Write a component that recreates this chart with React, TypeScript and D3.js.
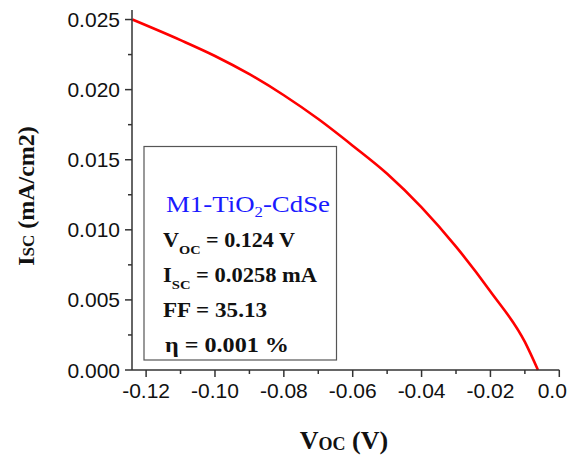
import React from "react";
import * as d3 from "d3";

// J–V curve of the M1-TiO2-CdSe cell
const voltage = [-0.124, -0.11, -0.1, -0.09, -0.08, -0.07, -0.06, -0.05, -0.04, -0.03, -0.02, -0.01, -0.0062];
const current = [0.025, 0.02353, 0.0224, 0.0211, 0.0196, 0.0179, 0.016, 0.014, 0.0116, 0.0088, 0.0056, 0.002, 0.0];

const xTicks = [-0.12, -0.1, -0.08, -0.06, -0.04, -0.02, 0.0];
const xTickLabels = ["-0.12", "-0.10", "-0.08", "-0.06", "-0.04", "-0.02", "0.0"];
const xMinor = [-0.11, -0.09, -0.07, -0.05, -0.03, -0.01];
const yTicks = [0, 0.005, 0.01, 0.015, 0.02, 0.025];
const yTickLabels = ["0.000", "0.005", "0.010", "0.015", "0.020", "0.025"];
const yMinor = [0.0025, 0.0075, 0.0125, 0.0175, 0.0225];

const W = 579;
const H = 456;
const sans = "'Liberation Sans', Arial, sans-serif";
const serif = "'Liberation Serif', 'Times New Roman', serif";
const axisColor = "#333";

export default function App() {
  const x = d3.scaleLinear().domain([-0.1241, 0]).range([132, 559.3]);
  const y = d3.scaleLinear().domain([0, 0.02568]).range([370, 10]);
  const [x0, x1] = x.range();
  const [y0, y1] = y.range();

  const pts = voltage.map((v, i) => [v, current[i]] as [number, number]);
  const line = d3
    .line<[number, number]>()
    .x((d) => x(d[0]))
    .y((d) => y(d[1]))
    .curve(d3.curveMonotoneX);

  return (
    <svg width={W} height={H} style={{ position: "absolute", left: 0, top: 0 }}>
      <rect width={W} height={H} fill="#fff" />

      {/* legend box */}
      <rect x={144} y={146.5} width={192.5} height={213.5} fill="none" stroke="#555" strokeWidth={1.2} />
      <text x={166} y={212} fontFamily={serif} fontSize={24} fill="#1a1aff" textLength={164} lengthAdjust="spacingAndGlyphs">
        M1-TiO<tspan fontSize={15} dy={5}>2</tspan>
        <tspan dy={-5}>-CdSe</tspan>
      </text>
      <g fontFamily={serif} fontWeight="bold" fill="#111">
        <text x={163} y={247} fontSize={20} textLength={132} lengthAdjust="spacingAndGlyphs">
          V<tspan fontSize={13} dy={7}>OC</tspan>
          <tspan dy={-7}> = 0.124 V</tspan>
        </text>
        <text x={163} y={282} fontSize={20} textLength={154} lengthAdjust="spacingAndGlyphs">
          I<tspan fontSize={13} dy={7}>SC</tspan>
          <tspan dy={-7}> = 0.0258 mA</tspan>
        </text>
        <text x={163} y={317} fontSize={20} textLength={104} lengthAdjust="spacingAndGlyphs">
          FF = 35.13
        </text>
        <text x={165} y={352} fontSize={21} textLength={124} lengthAdjust="spacingAndGlyphs">
          η = 0.001 %
        </text>
      </g>

      {/* curve */}
      <path d={line(pts) ?? ""} fill="none" stroke="#ff0000" strokeWidth={2.6} strokeLinejoin="round" />

      {/* axes */}
      <g stroke={axisColor} strokeWidth={1.5}>
        <line x1={x0} x2={x1} y1={y0} y2={y0} />
        <line x1={x0} x2={x0} y1={y0} y2={y1} />
        {xTicks.map((t) => (
          <line key={"xt" + t} x1={x(t)} x2={x(t)} y1={y0} y2={y0 + 7} />
        ))}
        {xMinor.map((t) => (
          <line key={"xm" + t} x1={x(t)} x2={x(t)} y1={y0} y2={y0 + 4} />
        ))}
        {yTicks.map((t) => (
          <line key={"yt" + t} x1={x0 - 7} x2={x0} y1={y(t)} y2={y(t)} />
        ))}
        {yMinor.map((t) => (
          <line key={"ym" + t} x1={x0 - 4} x2={x0} y1={y(t)} y2={y(t)} />
        ))}
      </g>
      <g fontFamily={sans} fontSize={21} fill="#111">
        {xTicks.map((t, i) => (
          <text key={"xl" + t} x={x(t) + (i === xTicks.length - 1 ? -7 : 0)} y={398} textAnchor="middle">
            {xTickLabels[i]}
          </text>
        ))}
        {yTicks.map((t, i) => (
          <text key={"yl" + t} x={120} y={y(t) + 7.5} textAnchor="end">
            {yTickLabels[i]}
          </text>
        ))}
      </g>

      {/* axis titles */}
      <text x={344} y={449} textAnchor="middle" fontFamily={serif} fontWeight="bold" fontSize={26} fill="#111">
        V<tspan fontSize={18} dy={1}>OC</tspan>
        <tspan dy={-1}> (V)</tspan>
      </text>
      <text
        transform="translate(34,196) rotate(-90)"
        textAnchor="middle"
        fontFamily={serif}
        fontWeight="bold"
        fontSize={24}
        fill="#111"
      >
        I<tspan fontSize={17}>SC</tspan> (mA/cm2)
      </text>
    </svg>
  );
}
